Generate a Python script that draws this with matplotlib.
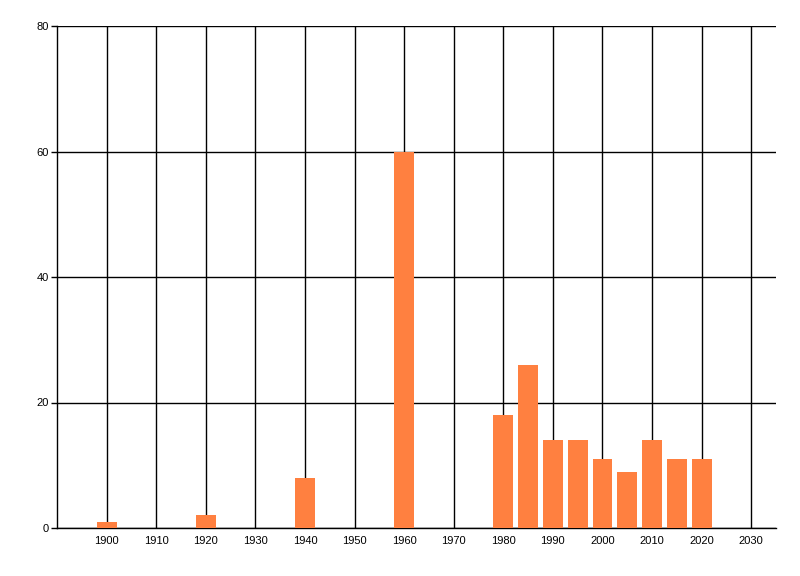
import matplotlib
matplotlib.use("Agg")
import matplotlib.pyplot as plt

years = [1900, 1920, 1940, 1960, 1980, 1985, 1990, 1995, 2000, 2005, 2010, 2015, 2020]
values = [1, 2, 8, 60, 18, 26, 14, 14, 11, 9, 14, 11, 11]
x_ticks = list(range(1900, 2031, 10))
y_ticks = [0, 20, 40, 60, 80]

plt.rcParams['font.family'] = ['Liberation Sans', 'DejaVu Sans']
fig = plt.figure(figsize=(8, 5.76), dpi=100)
ax = fig.add_axes([57/800, 1-528/576, (776-57)/800, (528-26)/576])

ax.bar(years, values, width=4, color='#FF8040', zorder=3)
ax.set_xlim(1890, 2035)
ax.set_ylim(0, 80)
ax.set_xticks(x_ticks)
ax.set_xticklabels([str(t) for t in x_ticks])
ax.set_yticks(y_ticks)
ax.grid(True, color='black', linewidth=1, zorder=0)
ax.set_axisbelow(True)
for s in ['top', 'right']:
    ax.spines[s].set_visible(False)
for s in ['left', 'bottom']:
    ax.spines[s].set_linewidth(1)
ax.tick_params(axis='x', length=0, pad=6, labelsize=8)
ax.tick_params(axis='y', length=4, width=1, pad=2, labelsize=8)

fig.savefig('out.png', dpi=100)
